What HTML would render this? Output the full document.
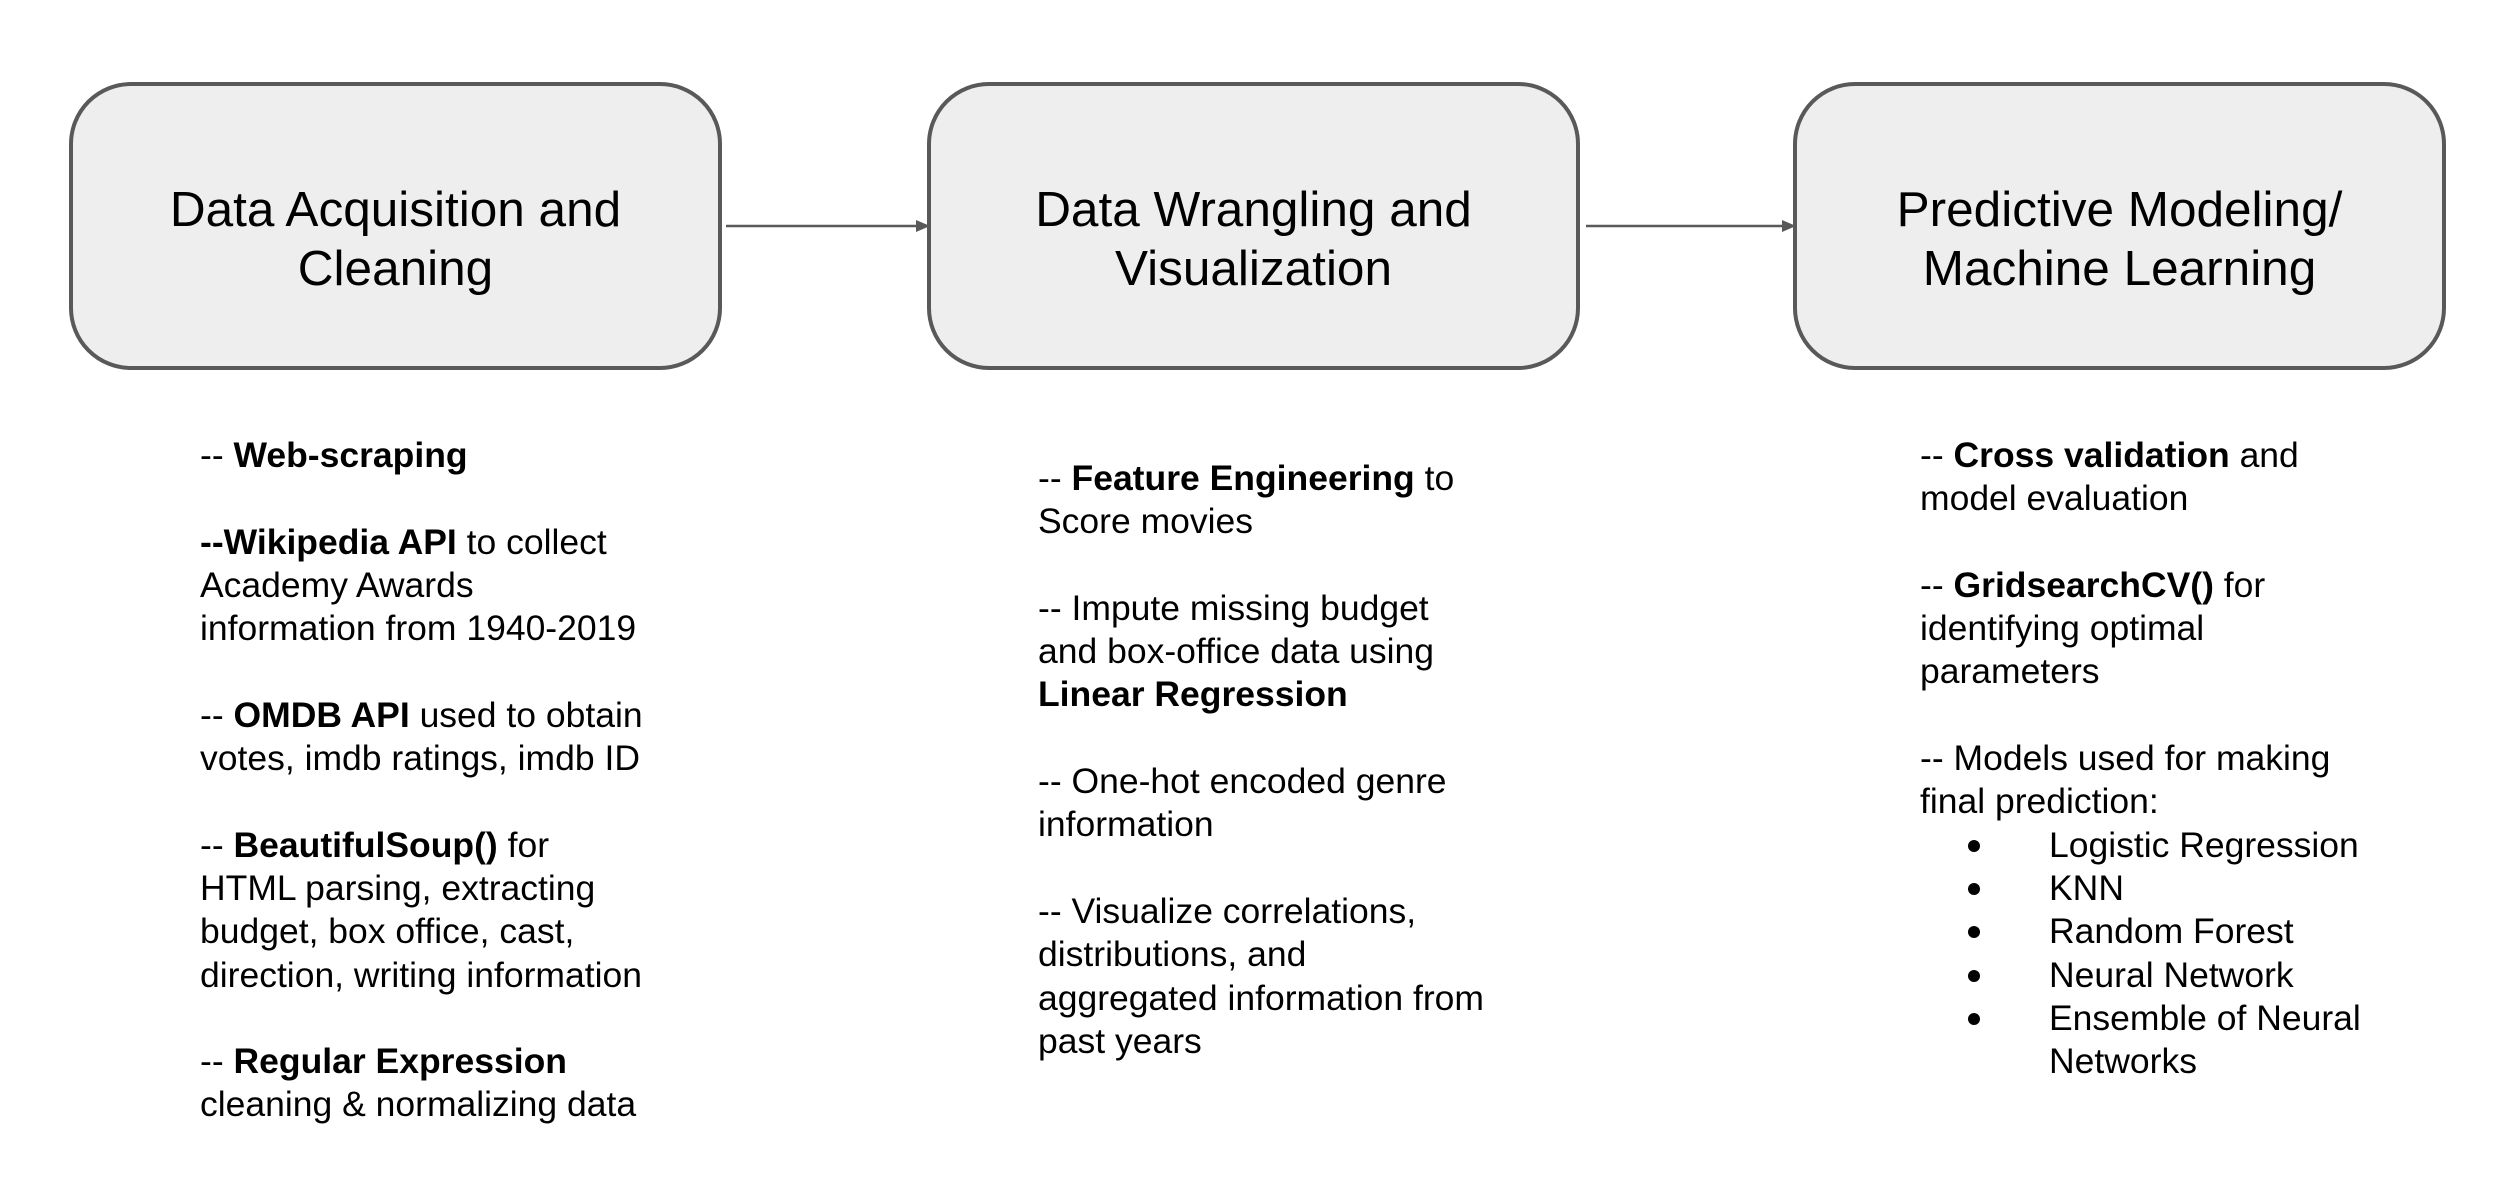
<!DOCTYPE html>
<html><head><meta charset="utf-8"><style>
html,body{margin:0;padding:0;background:#fff;}
body{width:2520px;height:1182px;position:relative;overflow:hidden;font-family:"Liberation Sans",Arial,Helvetica,sans-serif;color:#000;}
.box{position:absolute;top:82px;width:645px;height:280px;border:4.5px solid #595959;border-radius:62px;background:#eeeeee;text-align:center;font-size:49.5px;line-height:59px;box-sizing:content-box;}
.box span{position:absolute;left:0;right:0;top:94px;}
.col{position:absolute;font-size:35.5px;line-height:43.3px;white-space:nowrap;}
.col b{font-weight:bold;}
.li{position:relative;padding-left:129px;}
.li:before{content:"";position:absolute;left:48px;top:16px;width:12px;height:12px;border-radius:50%;background:#000;}
</style></head><body>
<div class="box" style="left:69px;"><span>Data Acquisition and<br>Cleaning</span></div>
<div class="box" style="left:927px;"><span>Data Wrangling and<br>Visualization</span></div>
<div class="box" style="left:1793px;"><span>Predictive Modeling/<br>Machine Learning</span></div>
<svg width="2520" height="1182" style="position:absolute;left:0;top:0">
<line x1="726" y1="226" x2="918" y2="226" stroke="#595959" stroke-width="2.5"/>
<polygon points="930,226 916,220 916,232" fill="#595959"/>
<line x1="1586" y1="226" x2="1784" y2="226" stroke="#595959" stroke-width="2.5"/>
<polygon points="1796,226 1782,220 1782,232" fill="#595959"/>
</svg>
<div class="col" style="left:200px;top:434px;">
-- <b>Web-scraping</b><br><br>
<b>--Wikipedia API</b> to collect<br>Academy Awards<br>information from 1940-2019<br><br>
-- <b>OMDB API</b> used to obtain<br>votes, imdb ratings, imdb ID<br><br>
-- <b>BeautifulSoup()</b> for<br>HTML parsing, extracting<br>budget, box office, cast,<br>direction, writing information<br><br>
-- <b>Regular Expression</b><br>cleaning &amp; normalizing data
</div>
<div class="col" style="left:1038px;top:457px;">
-- <b>Feature Engineering</b> to<br>Score movies<br><br>
-- Impute missing budget<br>and box-office data using<br><b>Linear Regression</b><br><br>
-- One-hot encoded genre<br>information<br><br>
-- Visualize correlations,<br>distributions, and<br>aggregated information from<br>past years
</div>
<div class="col" style="left:1920px;top:434px;">
-- <b>Cross validation</b> and<br>model evaluation<br><br>
-- <b>GridsearchCV()</b> for<br>identifying optimal<br>parameters<br><br>
-- Models used for making<br>final prediction:
<div class="li">Logistic Regression</div>
<div class="li">KNN</div>
<div class="li">Random Forest</div>
<div class="li">Neural Network</div>
<div class="li">Ensemble of Neural<br>Networks</div>
</div>
</body></html>
